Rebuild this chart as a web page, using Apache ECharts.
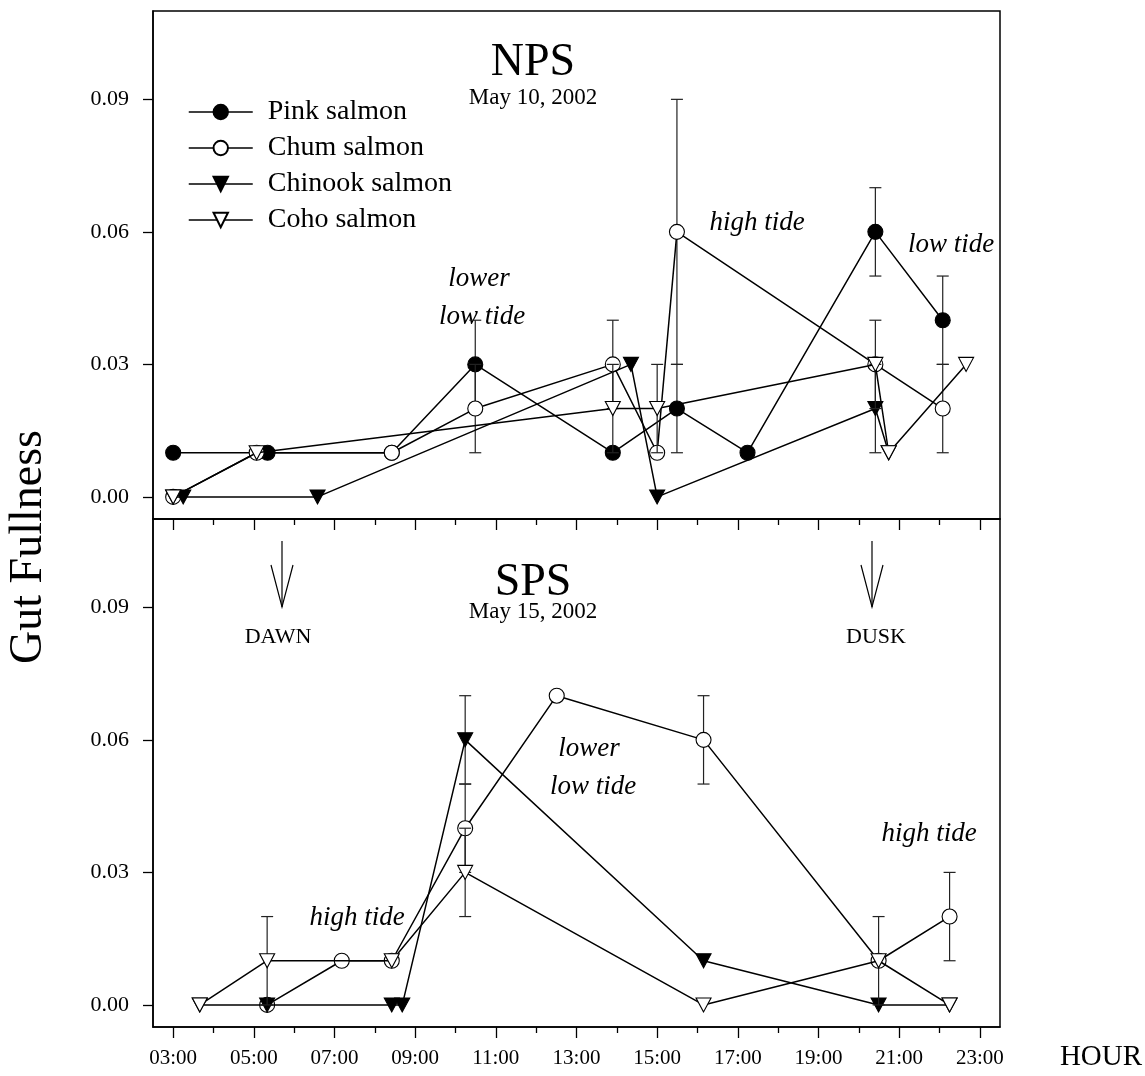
<!DOCTYPE html>
<html>
<head>
<meta charset="utf-8">
<script src="https://cdn.jsdelivr.net/npm/echarts@6/dist/echarts.min.js"></script>
<style>
  html, body { margin: 0; padding: 0; background: #fff; }
  #chart { width: 1145px; height: 1076px; }
</style>
</head>
<body>
<div id="chart"></div>
<script>
// Gut fullness of juvenile salmon through the day at two sites.
// Each point: [hour of day, mean gut fullness, error half-width (0 = no bar)]

// NPS, May 10, 2002
const npsPink = [[3.00, 0.01, 0], [5.34, 0.01, 0], [8.42, 0.01, 0], [10.49, 0.03, 0.01], [13.90, 0.01, 0],
                 [15.49, 0.02, 0.01], [17.24, 0.01, 0], [20.41, 0.06, 0.01], [22.08, 0.04, 0.01]];
const npsChum = [[3.00, 0.00, 0], [5.07, 0.01, 0], [8.42, 0.01, 0], [10.49, 0.02, 0.01], [13.90, 0.03, 0.01],
                 [15.00, 0.01, 0], [15.49, 0.06, 0.03], [20.41, 0.03, 0], [22.08, 0.02, 0.01]];
const npsChinook = [[3.00, 0.00, 0], [3.25, 0.00, 0], [6.58, 0.00, 0], [14.35, 0.03, 0], [15.00, 0.00, 0],
                    [20.41, 0.02, 0.01], [20.74, 0.01, 0]];
const npsCoho = [[3.00, 0.00, 0], [5.07, 0.01, 0], [13.90, 0.02, 0.01], [15.00, 0.02, 0.01],
                 [20.41, 0.03, 0.01], [20.74, 0.01, 0], [22.66, 0.03, 0]];

// SPS, May 15, 2002
const spsChum = [[5.33, 0.00, 0], [7.18, 0.01, 0], [8.42, 0.01, 0], [10.24, 0.04, 0.01], [12.51, 0.07, 0],
                 [16.15, 0.06, 0.01], [20.49, 0.01, 0], [22.25, 0.02, 0.01]];
const spsChinook = [[3.66, 0.00, 0], [5.33, 0.00, 0], [8.42, 0.00, 0], [8.68, 0.00, 0], [10.24, 0.06, 0.01],
                    [16.15, 0.01, 0], [20.49, 0.00, 0], [22.25, 0.00, 0]];
const spsCoho = [[3.66, 0.00, 0], [5.33, 0.01, 0.01], [8.42, 0.01, 0], [10.24, 0.03, 0.01], [16.15, 0.00, 0],
                 [20.49, 0.01, 0.01], [22.25, 0.00, 0]];

const speciesNames = ['Pink salmon', 'Chum salmon', 'Chinook salmon', 'Coho salmon'];
const labelledHours = [3, 5, 7, 9, 11, 13, 15, 17, 19, 21, 23];
const minorHours = [4, 6, 8, 10, 12, 14, 16, 18, 20, 22];
const yTickValues = [0, 0.03, 0.06, 0.09];

const SERIF = '"Liberation Serif", "Times New Roman", Times, serif';
const INK = '#000';

const markerStyle = {
  'Pink salmon':    { symbol: 'circle',   size: 15,       fill: '#000', rotate: 0 },
  'Chum salmon':    { symbol: 'circle',   size: 15,       fill: '#fff', rotate: 0 },
  'Chinook salmon': { symbol: 'triangle', size: [15, 14], fill: '#000', rotate: 180 },
  'Coho salmon':    { symbol: 'triangle', size: [15, 14], fill: '#fff', rotate: 180 }
};

function lineSeries(name, data, panel, z) {
  const m = markerStyle[name];
  return {
    type: 'line', name, xAxisIndex: panel * 2, yAxisIndex: panel, z,
    data: data.map(d => [d[0], d[1]]),
    symbol: m.symbol, symbolSize: m.size, symbolRotate: m.rotate, showSymbol: true,
    lineStyle: { color: INK, width: 1.5 },
    itemStyle: { color: m.fill, borderColor: INK, borderWidth: 1.1, opacity: 1 },
    emphasis: { disabled: true }, silent: true, animation: false
  };
}

function errorSeries(name, data, panel, z) {
  return {
    type: 'custom', name: name + ' SE', xAxisIndex: panel * 2, yAxisIndex: panel, z,
    data: data.filter(d => d[2] > 0),
    silent: true, animation: false,
    renderItem(params, api) {
      const x = api.value(0), y = api.value(1), e = api.value(2);
      const hi = api.coord([x, y + e]);
      const lo = api.coord([x, y - e]);
      const w = 6;
      const st = { stroke: '#222', lineWidth: 1.2 };
      return {
        type: 'group',
        children: [
          { type: 'line', shape: { x1: hi[0], y1: hi[1], x2: lo[0], y2: lo[1] }, style: st },
          { type: 'line', shape: { x1: hi[0] - w, y1: hi[1], x2: hi[0] + w, y2: hi[1] }, style: st },
          { type: 'line', shape: { x1: lo[0] - w, y1: lo[1], x2: lo[0] + w, y2: lo[1] }, style: st }
        ]
      };
    }
  };
}

function panelSeries(panel, sets) {
  const out = [];
  sets.forEach(([name, data], i) => {
    out.push(errorSeries(name, data, panel, 2 + i * 2));
    out.push(lineSeries(name, data, panel, 3 + i * 2));
  });
  return out;
}

const hh = v => (v < 10 ? '0' : '') + Math.round(v) + ':00';

function xAxes(panel) {
  const base = {
    type: 'value', gridIndex: panel, min: 2.5, max: 23.5, position: 'bottom',
    splitLine: { show: false }
  };
  return [
    Object.assign({}, base, {
      axisLine: { show: true, onZero: false, lineStyle: { color: INK, width: 1.5 } },
      axisTick: { show: true, inside: false, length: 11, customValues: labelledHours, lineStyle: { color: INK, width: 1.3 } },
      axisLabel: {
        show: panel === 1, customValues: labelledHours, formatter: hh, margin: 21,
        fontFamily: SERIF, fontSize: 21, color: INK
      }
    }),
    Object.assign({}, base, {
      axisLine: { show: false, onZero: false },
      axisTick: { show: true, inside: false, length: 6, customValues: minorHours, lineStyle: { color: INK, width: 1.3 } },
      axisLabel: { show: false }
    })
  ];
}

function yAxis(panel) {
  return {
    type: 'value', gridIndex: panel, min: -0.005, max: 0.11,
    splitLine: { show: false },
    axisLine: { show: true, onZero: false, lineStyle: { color: INK, width: 1.5 } },
    axisTick: { show: true, inside: false, length: 10, customValues: yTickValues, lineStyle: { color: INK, width: 1.3 } },
    axisLabel: {
      customValues: yTickValues, formatter: v => v.toFixed(2), margin: 24,
      fontFamily: SERIF, fontSize: 22, color: INK
    }
  };
}

function txt(text, x, y, size, italic) {
  return {
    type: 'text', x, y, silent: true,
    style: {
      text, fill: INK, align: 'center', verticalAlign: 'middle',
      font: (italic ? 'italic ' : '') + size + 'px ' + SERIF
    }
  };
}

function arrow(x, y1, y2) {
  return {
    type: 'group', silent: true,
    children: [
      { type: 'line', shape: { x1: x, y1, x2: x, y2 }, style: { stroke: INK, lineWidth: 1.2 } },
      { type: 'polyline', shape: { points: [[x - 11, y2 - 42], [x, y2], [x + 11, y2 - 42]] },
        style: { stroke: INK, lineWidth: 1.2, fill: null } }
    ]
  };
}

const chart = echarts.init(document.getElementById('chart'), null, { renderer: 'canvas' });

chart.setOption({
  backgroundColor: '#fff',
  animation: false,
  grid: [
    { left: 153, top: 11, width: 847, height: 508, show: true, borderColor: INK, borderWidth: 1.5, containLabel: false },
    { left: 153, top: 519, width: 847, height: 508, show: true, borderColor: INK, borderWidth: 1.5, containLabel: false }
  ],
  xAxis: xAxes(0).concat(xAxes(1)),
  yAxis: [yAxis(0), yAxis(1)],
  legend: {
    data: speciesNames, orient: 'vertical', left: 188, top: 94, padding: 0,
    itemWidth: 64, itemHeight: 18, itemGap: 0, selectedMode: false,
    lineStyle: { color: INK, width: 1.5 },
    textStyle: { fontFamily: SERIF, fontSize: 28, color: INK, lineHeight: 36, padding: [0, 0, 0, 10] }
  },
  series: [].concat(
    panelSeries(0, [['Pink salmon', npsPink], ['Chum salmon', npsChum], ['Chinook salmon', npsChinook], ['Coho salmon', npsCoho]]),
    panelSeries(1, [['Chum salmon', spsChum], ['Chinook salmon', spsChinook], ['Coho salmon', spsCoho]])
  ),
  graphic: [
    txt('NPS', 533, 63, 46, false),
    txt('May 10, 2002', 533, 98, 23, false),
    txt('lower', 479, 279, 27, true),
    txt('low tide', 482, 317, 27, true),
    txt('high tide', 757, 223, 27, true),
    txt('low tide', 951, 245, 27, true),
    txt('SPS', 533, 583, 46, false),
    txt('May 15, 2002', 533, 612, 23, false),
    txt('DAWN', 278, 637, 22, false),
    txt('DUSK', 876, 637, 22, false),
    arrow(282, 541, 607),
    arrow(872, 541, 607),
    txt('high tide', 357, 918, 27, true),
    txt('lower', 589, 749, 27, true),
    txt('low tide', 593, 787, 27, true),
    txt('high tide', 929, 834, 27, true),
    Object.assign(txt('Gut Fullness', 29, 547, 46, false), { rotation: Math.PI / 2 }),
    txt('HOUR', 1101, 1057, 29, false)
  ]
});
</script>
</body>
</html>
